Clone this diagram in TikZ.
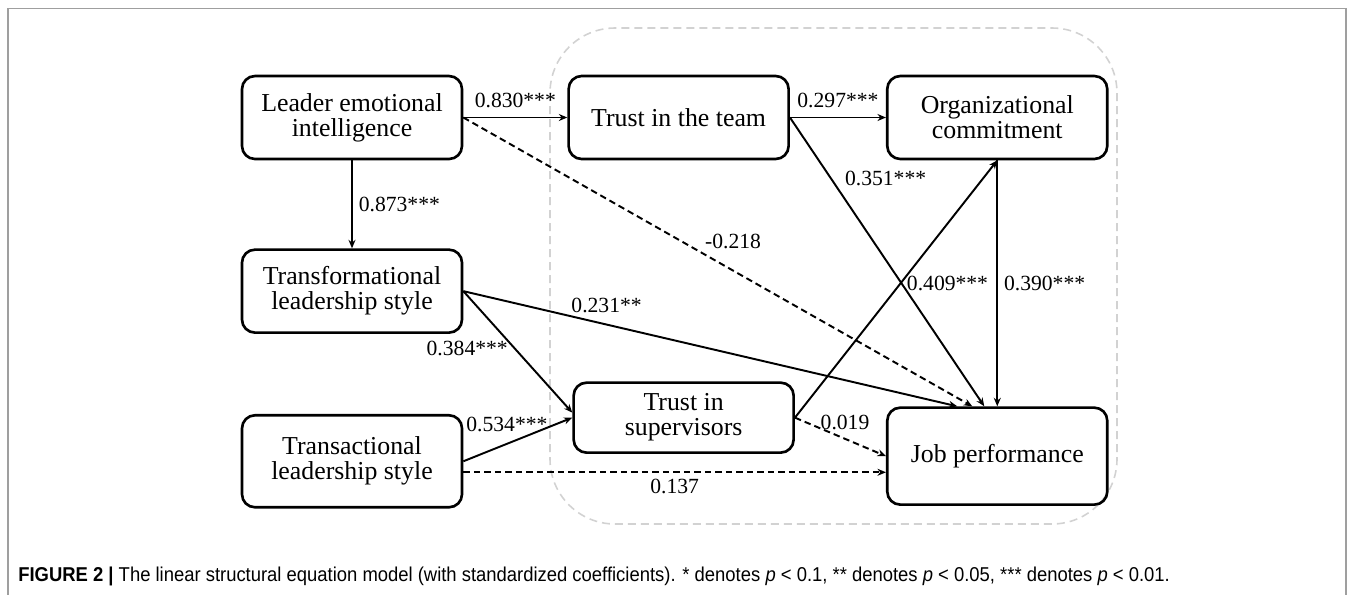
\documentclass[tikz,border=0pt]{standalone}
\usepackage{fontspec}
\setmainfont{Liberation Serif}
\newfontfamily\capfont[FakeStretch=0.92]{Liberation Sans}
\usetikzlibrary{arrows.meta,positioning,calc}

\begin{document}
\begin{tikzpicture}[
  >={Stealth[length=1.7mm,width=1.4mm]},
  every node/.style={font=\fontsize{12.3}{14}\selectfont},
  box/.style={draw, line width=1.5pt, rounded corners=2.6mm, align=center,
              minimum height=16.6mm, minimum width=44mm, inner sep=1mm,
              font=\fontsize{14.7}{14.2}\selectfont},
  link/.style={->, line width=1.1pt},
  dlink/.style={link, dash pattern=on 1.3mm off 0.8mm},
]
\useasboundingbox (0,0) rectangle (271.6mm,-118.8mm);
% outer frame and the dashed mediator region
\draw[gray!75, line width=0.6pt] (1.6mm,-130mm) |- (269.2mm,-1.7mm) -- (269.2mm,-130mm);
\draw[gray!35, line width=0.9pt, dash pattern=on 1.6mm off 1mm, rounded corners=13mm]
  (110mm,-5.6mm) rectangle (223.4mm,-104.8mm);

\node[box] (lei) at (70.4mm,-23.5mm) {Leader emotional\\intelligence};
\node[box, right=20.8mm of lei] (team) {Trust in the team};
\node[box, right=19.2mm of team] (oc) {Organizational\\commitment};
\node[box, below=17.6mm of lei] (tfl) {Transformational\\leadership style};
\node[box, below=16mm of tfl, minimum height=18.4mm] (tsl) {Transactional\\leadership style};
\node[box, below=44.2mm of team, xshift=1mm, minimum height=14mm] (sup) {Trust in\\supervisors};
\node[box, below=49.2mm of oc, minimum height=19.4mm] (jp) {Job performance};

\draw[link] (lei) -- node[above=0.5mm] {0.830***} (team);
\draw[link] (lei) -- node[right] {0.873***} (tfl);
\draw[dlink] (lei.east) --
  node[pos=0.53, above=3mm] {-0.218} ($(jp.north)+(-5mm,0)$);
\draw[link] (team) -- node[above=0.5mm] {0.297***} (oc);
\draw[link] (team.east) --
  node[pos=0.21, right=1.5mm] {0.351***} ($(jp.north)+(-2.6mm,0)$);
\draw[link] (tfl.east) --
  node[pos=0.29, above=1mm] {0.231**} ($(jp.north)+(-8mm,0)$);
\draw[link] (tfl.east) --
  node[pos=0.47, left] {0.384***} ($(sup.west)+(0,1mm)$);
\draw[link] (tsl.east) -- node[pos=0.4, above=1mm] {0.534***} (sup.west);
\draw[dlink] ($(tsl.east)+(0,-2.2mm)$) coordinate (tsl1) --
  node[below] {0.137} (tsl1 -| jp.west);
\draw[link] (sup.east) -- node[pos=0.52, right] {0.409***} (oc.south);
\draw[dlink] (sup.east) -- node[pos=0.55, above=0.5mm] {0.019} (jp.west);
\draw[link] (oc) -- node[right] {0.390***} (jp);

\node[anchor=west, inner sep=0pt, font=\capfont\fontsize{11.4}{13}\selectfont] (cap)
  at (3.6mm,-115.2mm) {\textbf{FIGURE 2 |} The linear structural equation model
  (with standardized coefficients). * denotes \textit{p} < 0.1, ** denotes
  \textit{p} < 0.05, *** denotes \textit{p} < 0.01.};
\end{tikzpicture}
\end{document}
